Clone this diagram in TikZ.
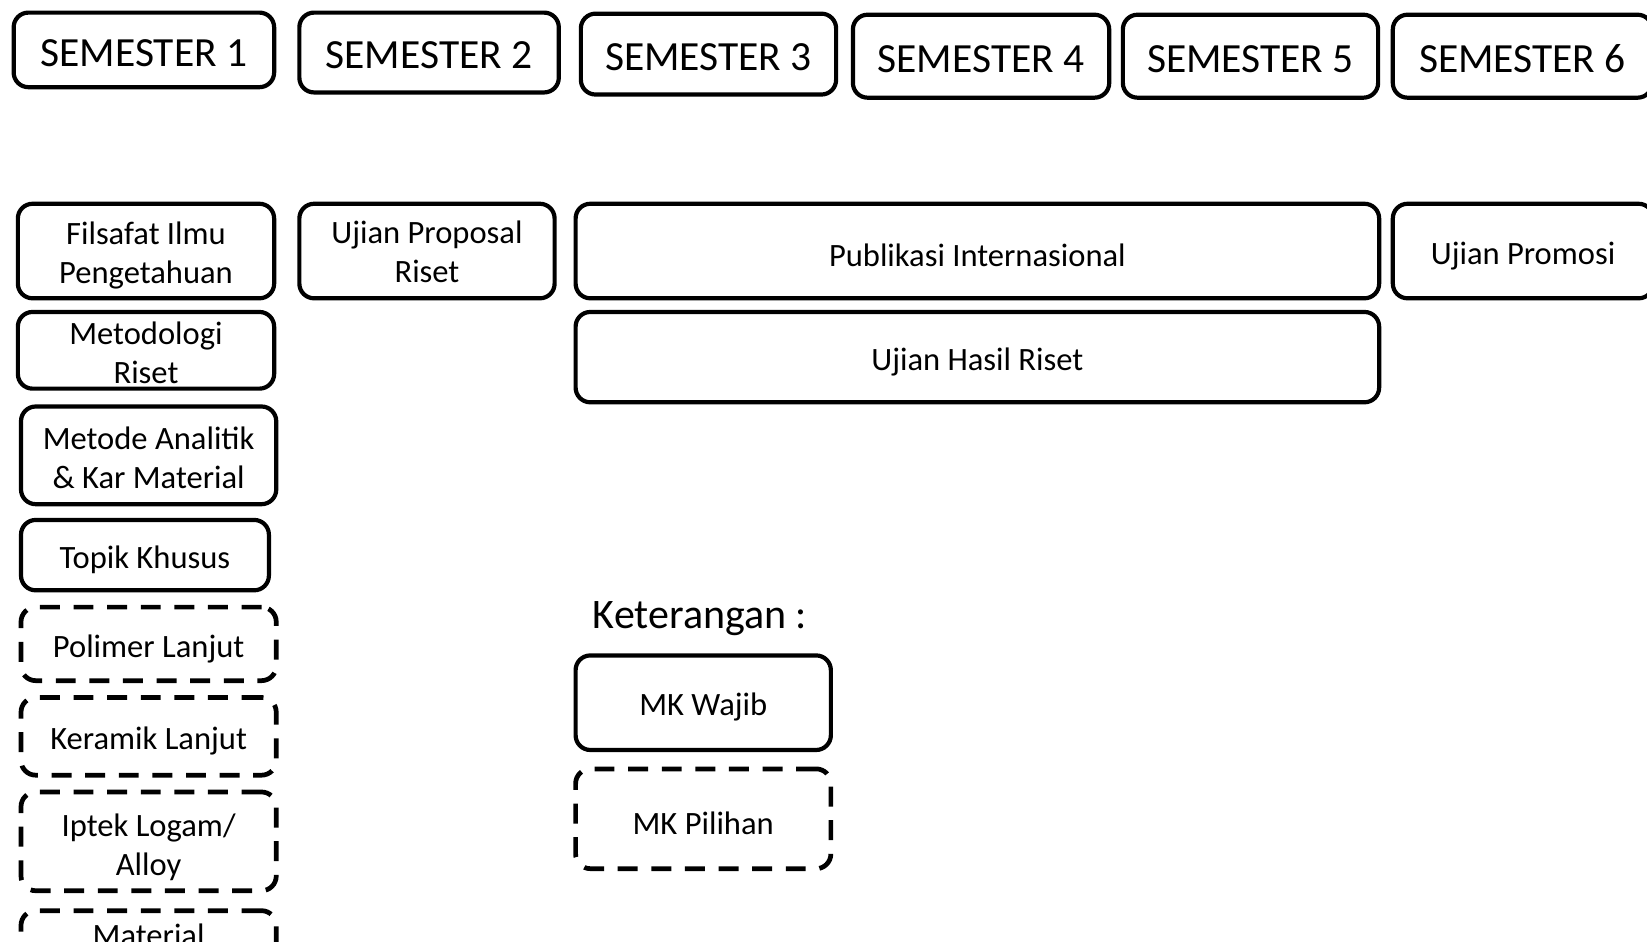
\documentclass[tikz,border=0pt]{standalone}
\usepackage{fontspec}
\setmainfont{Carlito}

\begin{document}
\begin{tikzpicture}[
        x=1pt, y=-1pt,
        semester/.style={rectangle, rounded corners=14pt, draw, line width=4pt, font=\fontsize{39.5}{47}\selectfont, execute at begin node={\rule{0pt}{31.5pt}}},
        wajib/.style={rectangle, rounded corners=14pt, draw, line width=4pt, align=center, font=\fontsize{31}{37}\selectfont, execute at begin node={\rule{0pt}{30.5pt}}},
        wajib2/.style={wajib, execute at begin node={\rule{0pt}{#1}}},
        wajib2/.default=67.5pt,
        pilihan/.style={wajib, line width=4.5pt, dash pattern=on 19pt off 13pt},
        pilihan2/.style={wajib2=#1, line width=4.5pt, dash pattern=on 19pt off 13pt},
        pilihan2/.default=67.5pt
    ]
        \useasboundingbox (0,0) rectangle (1568,896);
        \clip (0,0) rectangle (1568,896);

        % Semester headers
        \node[semester, minimum width=248pt, minimum height=71pt] (sem1) at (137,47.5) {SEMESTER 1};
        \node[semester, minimum width=247pt, minimum height=76pt] (sem2) at (408.5,50) {SEMESTER 2};
        \node[semester, minimum width=243pt, minimum height=77pt] (sem3) at (674.5,51.5) {SEMESTER 3};
        \node[semester, minimum width=244pt, minimum height=79pt] (sem4) at (934,53.5) {SEMESTER 4};
        \node[semester, minimum width=243pt, minimum height=79pt] (sem5) at (1190.5,53.5) {SEMESTER 5};
        \node[semester, minimum width=247pt, minimum height=79pt] (sem6) at (1449.5,53.5) {SEMESTER 6};

        % Semester 1 courses
        \node[wajib2, minimum width=244pt, minimum height=90pt] (filsafat) at (139,239) {Filsafat Ilmu\\Pengetahuan};
        \node[wajib2=63.5pt, minimum width=244pt, minimum height=73pt] (metodologi) at (139,333.5) {Metodologi\\Riset};
        \node[wajib2=62.5pt, minimum width=243pt, minimum height=93pt] (analitik) at (141.5,433.5) {Metode Analitik\\\& Kar Material};
        \node[wajib, minimum width=236pt, minimum height=67pt] (topik) at (138,528.5) {Topik Khusus};
        \node[pilihan, minimum width=243pt, minimum height=70pt] (polimer) at (141.5,613) {Polimer Lanjut};
        \node[pilihan, minimum width=243pt, minimum height=74pt] (keramik) at (141.5,701) {Keramik Lanjut};
        \node[pilihan2=70pt, minimum width=243pt, minimum height=94pt] (logam) at (141.5,801) {Iptek Logam/\\Alloy};
        \node[pilihan, minimum width=243pt, minimum height=94pt] (material) at (141.5,914) {Material\\\rule[-10pt]{0pt}{10pt}};

        % Semester 2 - 6
        \node[wajib2=60.5pt, minimum width=243pt, minimum height=90pt] (proposal) at (406.5,239) {Ujian Proposal\\Riset};
        \node[wajib, minimum width=765pt, minimum height=90pt] (publikasi) at (930.5,239) {Publikasi Internasional};
        \node[wajib, minimum width=765pt, minimum height=86pt] (hasil) at (930.5,340) {Ujian Hasil Riset};
        \node[wajib, minimum width=248pt, minimum height=90pt] (promosi) at (1450,239) {Ujian Promosi};

        % Legend
        \node[font=\fontsize{40}{48}\selectfont] (keterangan) at (666.5,589) {Keterangan :};
        \node[wajib, minimum width=243pt, minimum height=90pt] (mkwajib) at (669.5,669) {MK Wajib};
        \node[pilihan, minimum width=243pt, minimum height=95pt] (mkpilihan) at (669.5,779.5) {MK Pilihan};
    \end{tikzpicture}
\end{document}
